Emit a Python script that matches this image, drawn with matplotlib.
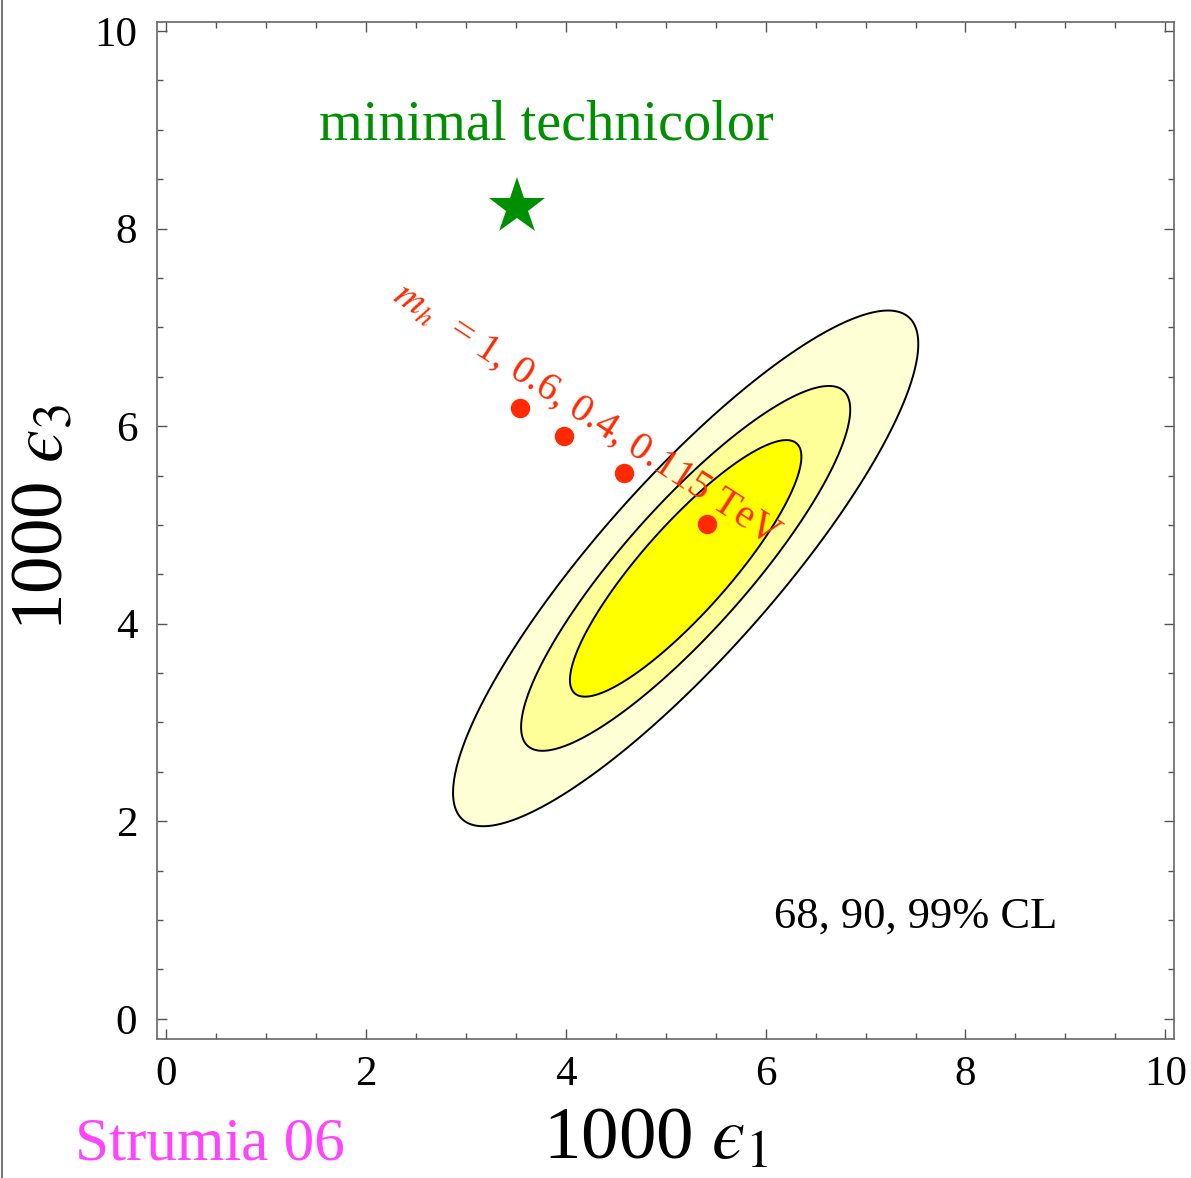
import numpy as np
import matplotlib
matplotlib.use("Agg")
import matplotlib.pyplot as plt
from matplotlib.lines import Line2D

plt.rcParams['font.family'] = ['Liberation Serif', 'DejaVu Serif']
plt.rcParams['mathtext.fontset'] = 'stix'

# --- data ---
fit_center = (5.2, 4.56)        # (1000 eps1, 1000 eps3)
fit_sigma = (0.767, 0.86)
fit_rho = 0.87
cl_levels = [2.28, 4.61, 9.21]   # 68, 90, 99% CL (2 dof)
cl_colors = ['#FFFF00', '#FFFF99', '#FFFFD6']

mh_eps1 = [3.54, 3.98, 4.58, 5.41]
mh_eps3 = [6.18, 5.90, 5.53, 5.01]

tc_eps1 = [3.51]
tc_eps3 = [8.22]

xticks = [0, 2, 4, 6, 8, 10]
yticks = [0, 2, 4, 6, 8, 10]

fig = plt.figure(figsize=(11.91, 11.78), dpi=100)
ax = fig.add_axes([0.1316, 0.1183, 0.986 - 0.1316, 0.9813 - 0.1183])

x = np.linspace(-0.2, 10.2, 600)
y = np.linspace(-0.3, 10.2, 600)
X, Y = np.meshgrid(x, y)
dx = (X - fit_center[0]) / fit_sigma[0]
dy = (Y - fit_center[1]) / fit_sigma[1]
chi2 = (dx**2 - 2 * fit_rho * dx * dy + dy**2) / (1 - fit_rho**2)
ax.contourf(X, Y, chi2, levels=[0] + cl_levels, colors=cl_colors)
ax.contour(X, Y, chi2, levels=cl_levels, colors='black', linewidths=1.4)

ax.plot(mh_eps1, mh_eps3, 'o', color='#FF2A00', markersize=14, markeredgewidth=0)
ax.plot(tc_eps1, tc_eps3, '*', color='#008F00', markersize=43, markeredgewidth=0)

ax.text(3.81, 8.9, 'minimal technicolor', color='#008F00', fontsize=40.5,
        ha='center', va='baseline')
ax.text(2.31, 7.37, r'$m_h$  = 1, 0.6, 0.4, 0.115 TeV', color='#FF2A00',
        fontsize=29, rotation=-33, rotation_mode='anchor', ha='left', va='center')
ax.text(7.5, 1.04, '68, 90, 99% CL', fontsize=32, ha='center', va='center')

ax.set_xlim(-0.093, 10.09)
ax.set_ylim(-0.2, 10.09)
ax.set_xticks(xticks)
ax.set_yticks(yticks)
ax.set_xticks(np.arange(0, 10.01, 0.5), minor=True)
ax.set_yticks(np.arange(0, 10.01, 0.5), minor=True)
ax.tick_params(which='both', direction='in', top=True, right=True, color='#555555')
ax.tick_params(which='major', length=7, width=1.0, labelsize=31, pad=12)
ax.tick_params(which='minor', length=4, width=1.0)
ax.tick_params(axis='y', which='major', pad=14)
for s in ax.spines.values():
    s.set_color('#666666')
    s.set_linewidth(1.2)

fig.text(655 / 1191, 1 - 1140 / 1178, '1000 $\u03f5_1$', fontsize=54,
         ha='center', va='center')
fig.text(45 / 1191, 1 - 518 / 1178, '1000 $\u03f5_3$', fontsize=54,
         ha='center', va='center', rotation=90)
fig.text(210 / 1191, 1 - 1145 / 1178, 'Strumia 06', fontsize=44, color='#FF44FF',
         ha='center', va='center')

fig.add_artist(Line2D([0.0015, 0.0015], [0, 1], color='#777777', linewidth=1.5,
                      transform=fig.transFigure))

fig.savefig('out.png', dpi=100)
